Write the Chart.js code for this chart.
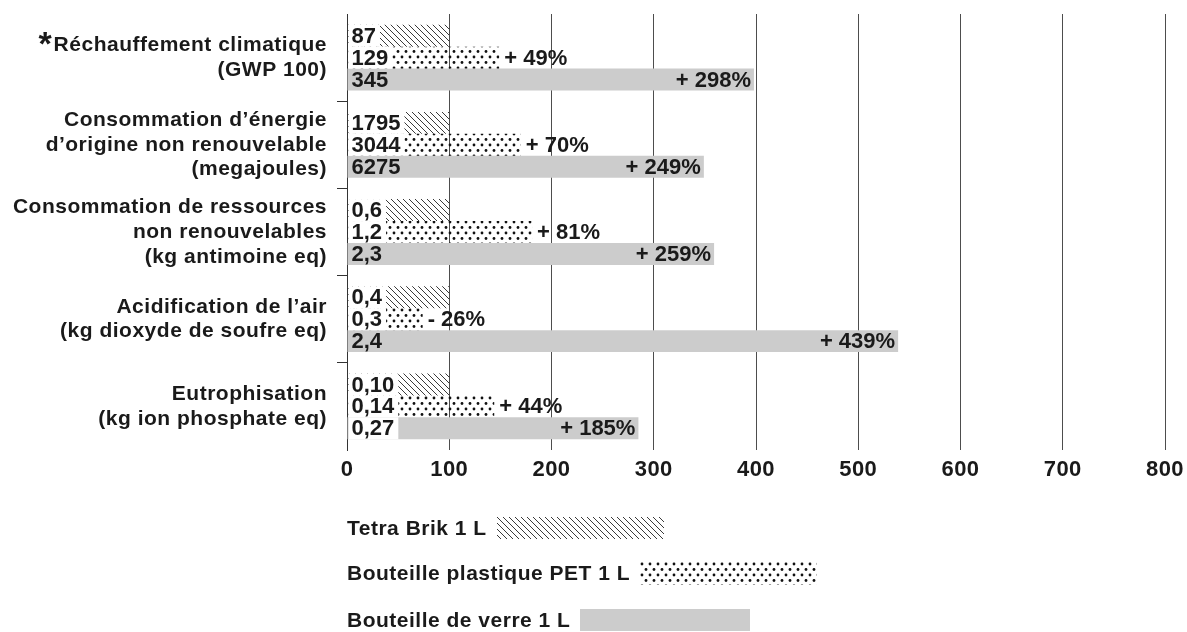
<!DOCTYPE html>
<html lang="fr">
<head>
  <meta charset="UTF-8" />
  <title>Analyse de cycle de vie – emballages 1 L</title>
  <script src="https://cdn.jsdelivr.net/npm/chart.js@4.4.0/dist/chart.umd.min.js"></script>
  <style>
    html, body { margin: 0; padding: 0; background: #fff; }
    .wrap { position: relative; width: 1187px; height: 632px; overflow: hidden; }
    .legend { position: absolute; left: 347px; font: bold 21px "Liberation Sans", Arial, sans-serif;
              letter-spacing: 0.5px; color: #1a1a1a; display: flex; align-items: center; height: 24px; }
    .legend canvas { margin-left: 10px; display: block; }
  </style>
</head>
<body>
  <div class="wrap">
    <canvas id="chart"></canvas>
    <div class="legend" id="leg0" style="top:516px"><span>Tetra Brik 1 L</span></div>
    <div class="legend" id="leg1" style="top:561px"><span>Bouteille plastique PET 1 L</span></div>
    <div class="legend" id="leg2" style="top:608px"><span>Bouteille de verre 1 L</span></div>
  </div>

  <script>
    // catégories (impacts)
    const categories = [
      ['Réchauffement climatique', '(GWP 100)'],
      ['Consommation d’énergie', 'd’origine non renouvelable', '(megajoules)'],
      ['Consommation de ressources', 'non renouvelables', '(kg antimoine eq)'],
      ['Acidification de l’air', '(kg dioxyde de soufre eq)'],
      ['Eutrophisation', '(kg ion phosphate eq)']
    ];
    const footnoteMark = '*'; // devant le premier libellé
    const seriesNames = ['Tetra Brik 1 L', 'Bouteille plastique PET 1 L', 'Bouteille de verre 1 L'];

    // indices (Tetra Brik = 100)
    const tetraValues = [100, 100, 100, 100, 100];
    const petValues = [149, 170, 181, 74, 144];
    const glassValues = [398, 349, 359, 539, 285];

    // valeurs absolues écrites dans les barres
    const tetraLabels = ['87', '1795', '0,6', '0,4', '0,10'];
    const petLabels = ['129', '3044', '1,2', '0,3', '0,14'];
    const glassLabels = ['345', '6275', '2,3', '2,4', '0,27'];

    // écarts par rapport au Tetra Brik
    const petDiff = ['+ 49%', '+ 70%', '+ 81%', '- 26%', '+ 44%'];
    const glassDiff = ['+ 298%', '+ 249%', '+ 259%', '+ 439%', '+ 185%'];

    const xTicks = [0, 100, 200, 300, 400, 500, 600, 700, 800];

    const FONT = '"Liberation Sans", Arial, sans-serif';
    const TEXT = '#1a1a1a';
    const LABEL_SIZE = 21;
    const LABEL_LH = 1.18;

    // motifs de remplissage
    function hatchPattern() {
      const c = document.createElement('canvas');
      c.width = 6; c.height = 6;
      const g = c.getContext('2d');
      g.strokeStyle = '#3a3a3a';
      g.lineWidth = 1;
      g.beginPath();
      g.moveTo(-1, -1); g.lineTo(7, 7);
      g.moveTo(-1, 5); g.lineTo(1, 7);
      g.moveTo(5, -1); g.lineTo(7, 1);
      g.stroke();
      return c;
    }
    function dotPattern() {
      const c = document.createElement('canvas');
      c.width = 8; c.height = 11;
      const g = c.getContext('2d');
      g.fillStyle = '#111';
      g.beginPath(); g.arc(2, 2, 1.4, 0, Math.PI * 2); g.fill();
      g.beginPath(); g.arc(6, 7.5, 1.4, 0, Math.PI * 2); g.fill();
      return c;
    }
    const ctx = document.getElementById('chart').getContext('2d');
    const hatch = ctx.createPattern(hatchPattern(), 'repeat');
    const dots = ctx.createPattern(dotPattern(), 'repeat');
    const fills = [hatch, dots, '#cccccc'];

    // légende en HTML avec petites toiles pour les motifs
    const swatchSizes = [[167, 22], [177, 23], [170, 22]];
    swatchSizes.forEach((s, i) => {
      const c = document.createElement('canvas');
      c.width = s[0]; c.height = s[1];
      const g = c.getContext('2d');
      g.fillStyle = fills[i];
      g.fillRect(0, 0, s[0], s[1]);
      document.getElementById('leg' + i).appendChild(c);
    });

    const allLabels = [tetraLabels, petLabels, glassLabels];

    const barLabels = {
      id: 'barLabels',
      beforeDraw(chart) {
        chart.ctx.letterSpacing = '0.5px';
      },
      afterDatasetsDraw(chart) {
        const c = chart.ctx;
        c.save();
        c.letterSpacing = '0px';
        c.font = 'bold 22px ' + FONT;
        c.textBaseline = 'middle';
        for (let i = 0; i < 3; i++) {
          const meta = chart.getDatasetMeta(i);
          meta.data.forEach((bar, j) => {
            const p = bar.getProps(['x', 'y', 'base', 'height'], true);
            const txt = allLabels[i][j];
            const w = c.measureText(txt).width;
            // fond blanc derrière la valeur (motifs, et dernière barre verre)
            if (i < 2 || (i === 2 && j === 4)) {
              c.fillStyle = '#fff';
              c.fillRect(p.base + 1, p.y - p.height / 2, w + 7, p.height);
            }
            c.fillStyle = TEXT;
            c.textAlign = 'left';
            c.fillText(txt, p.base + 4, p.y + 1);
            if (i === 1) {
              c.fillText(petDiff[j], p.x + 5, p.y + 1);
            } else if (i === 2) {
              c.textAlign = 'right';
              c.fillText(glassDiff[j], p.x - 3, p.y + 1);
            }
          });
        }

        // astérisque devant « Réchauffement climatique »
        const y = chart.scales.y;
        const first = categories[0];
        c.letterSpacing = '0.5px';
        c.font = 'bold ' + LABEL_SIZE + 'px ' + FONT;
        const lw = c.measureText(first[0]).width;
        const lineY = y.getPixelForTick(0) - (first.length - 1) / 2 * LABEL_SIZE * LABEL_LH;
        c.letterSpacing = '0px';
        c.font = 'bold 34px ' + FONT;
        c.textAlign = 'right';
        c.fillText(footnoteMark, y.right - 20 - lw - 2, lineY);
        c.restore();
      }
    };

    Chart.defaults.font.family = FONT;

    new Chart(ctx, {
      type: 'bar',
      data: {
        labels: categories,
        datasets: [
          { label: seriesNames[0], data: tetraValues, backgroundColor: fills[0] },
          { label: seriesNames[1], data: petValues, backgroundColor: fills[1] },
          { label: seriesNames[2], data: glassValues, backgroundColor: fills[2] }
        ]
      },
      options: {
        indexAxis: 'y',
        responsive: true,
        maintainAspectRatio: false,
        animation: false,
        datasets: {
          bar: { barPercentage: 1, categoryPercentage: 0.755, borderWidth: 0 }
        },
        layout: { padding: { top: 14, right: 22, left: 0, bottom: 0 } },
        plugins: {
          legend: { display: false },
          tooltip: { enabled: false }
        },
        scales: {
          x: {
            min: 0,
            max: 800,
            afterBuildTicks: (scale) => { scale.ticks = xTicks.map(v => ({ value: v })); },
            afterFit: (scale) => {
              scale.height = 182;
              scale.paddingLeft = 0;
              scale.paddingRight = 0;
            },
            border: { display: false },
            grid: {
              drawTicks: false,
              color: (c) => c.tick && c.tick.value === 0 ? 'rgba(0,0,0,0)' : '#4d4d4d',
              lineWidth: 1
            },
            ticks: {
              color: TEXT,
              padding: 7,
              font: { size: 22, weight: 'bold' }
            }
          },
          y: {
            afterFit: (scale) => {
              scale.width = 347;
              scale.paddingTop = 0;
              scale.paddingBottom = 0;
            },
            border: { display: true, color: '#333', width: 1 },
            grid: {
              offset: true,
              drawOnChartArea: false,
              drawTicks: true,
              tickLength: 10,
              // seulement les séparations entre groupes
              color: (c) => (c.index === undefined || c.index === 0) ? 'rgba(0,0,0,0)' : '#333'
            },
            ticks: {
              color: TEXT,
              padding: 10,
              font: { size: LABEL_SIZE, weight: 'bold', lineHeight: LABEL_LH }
            }
          }
        }
      },
      plugins: [barLabels]
    });
  </script>
</body>
</html>
